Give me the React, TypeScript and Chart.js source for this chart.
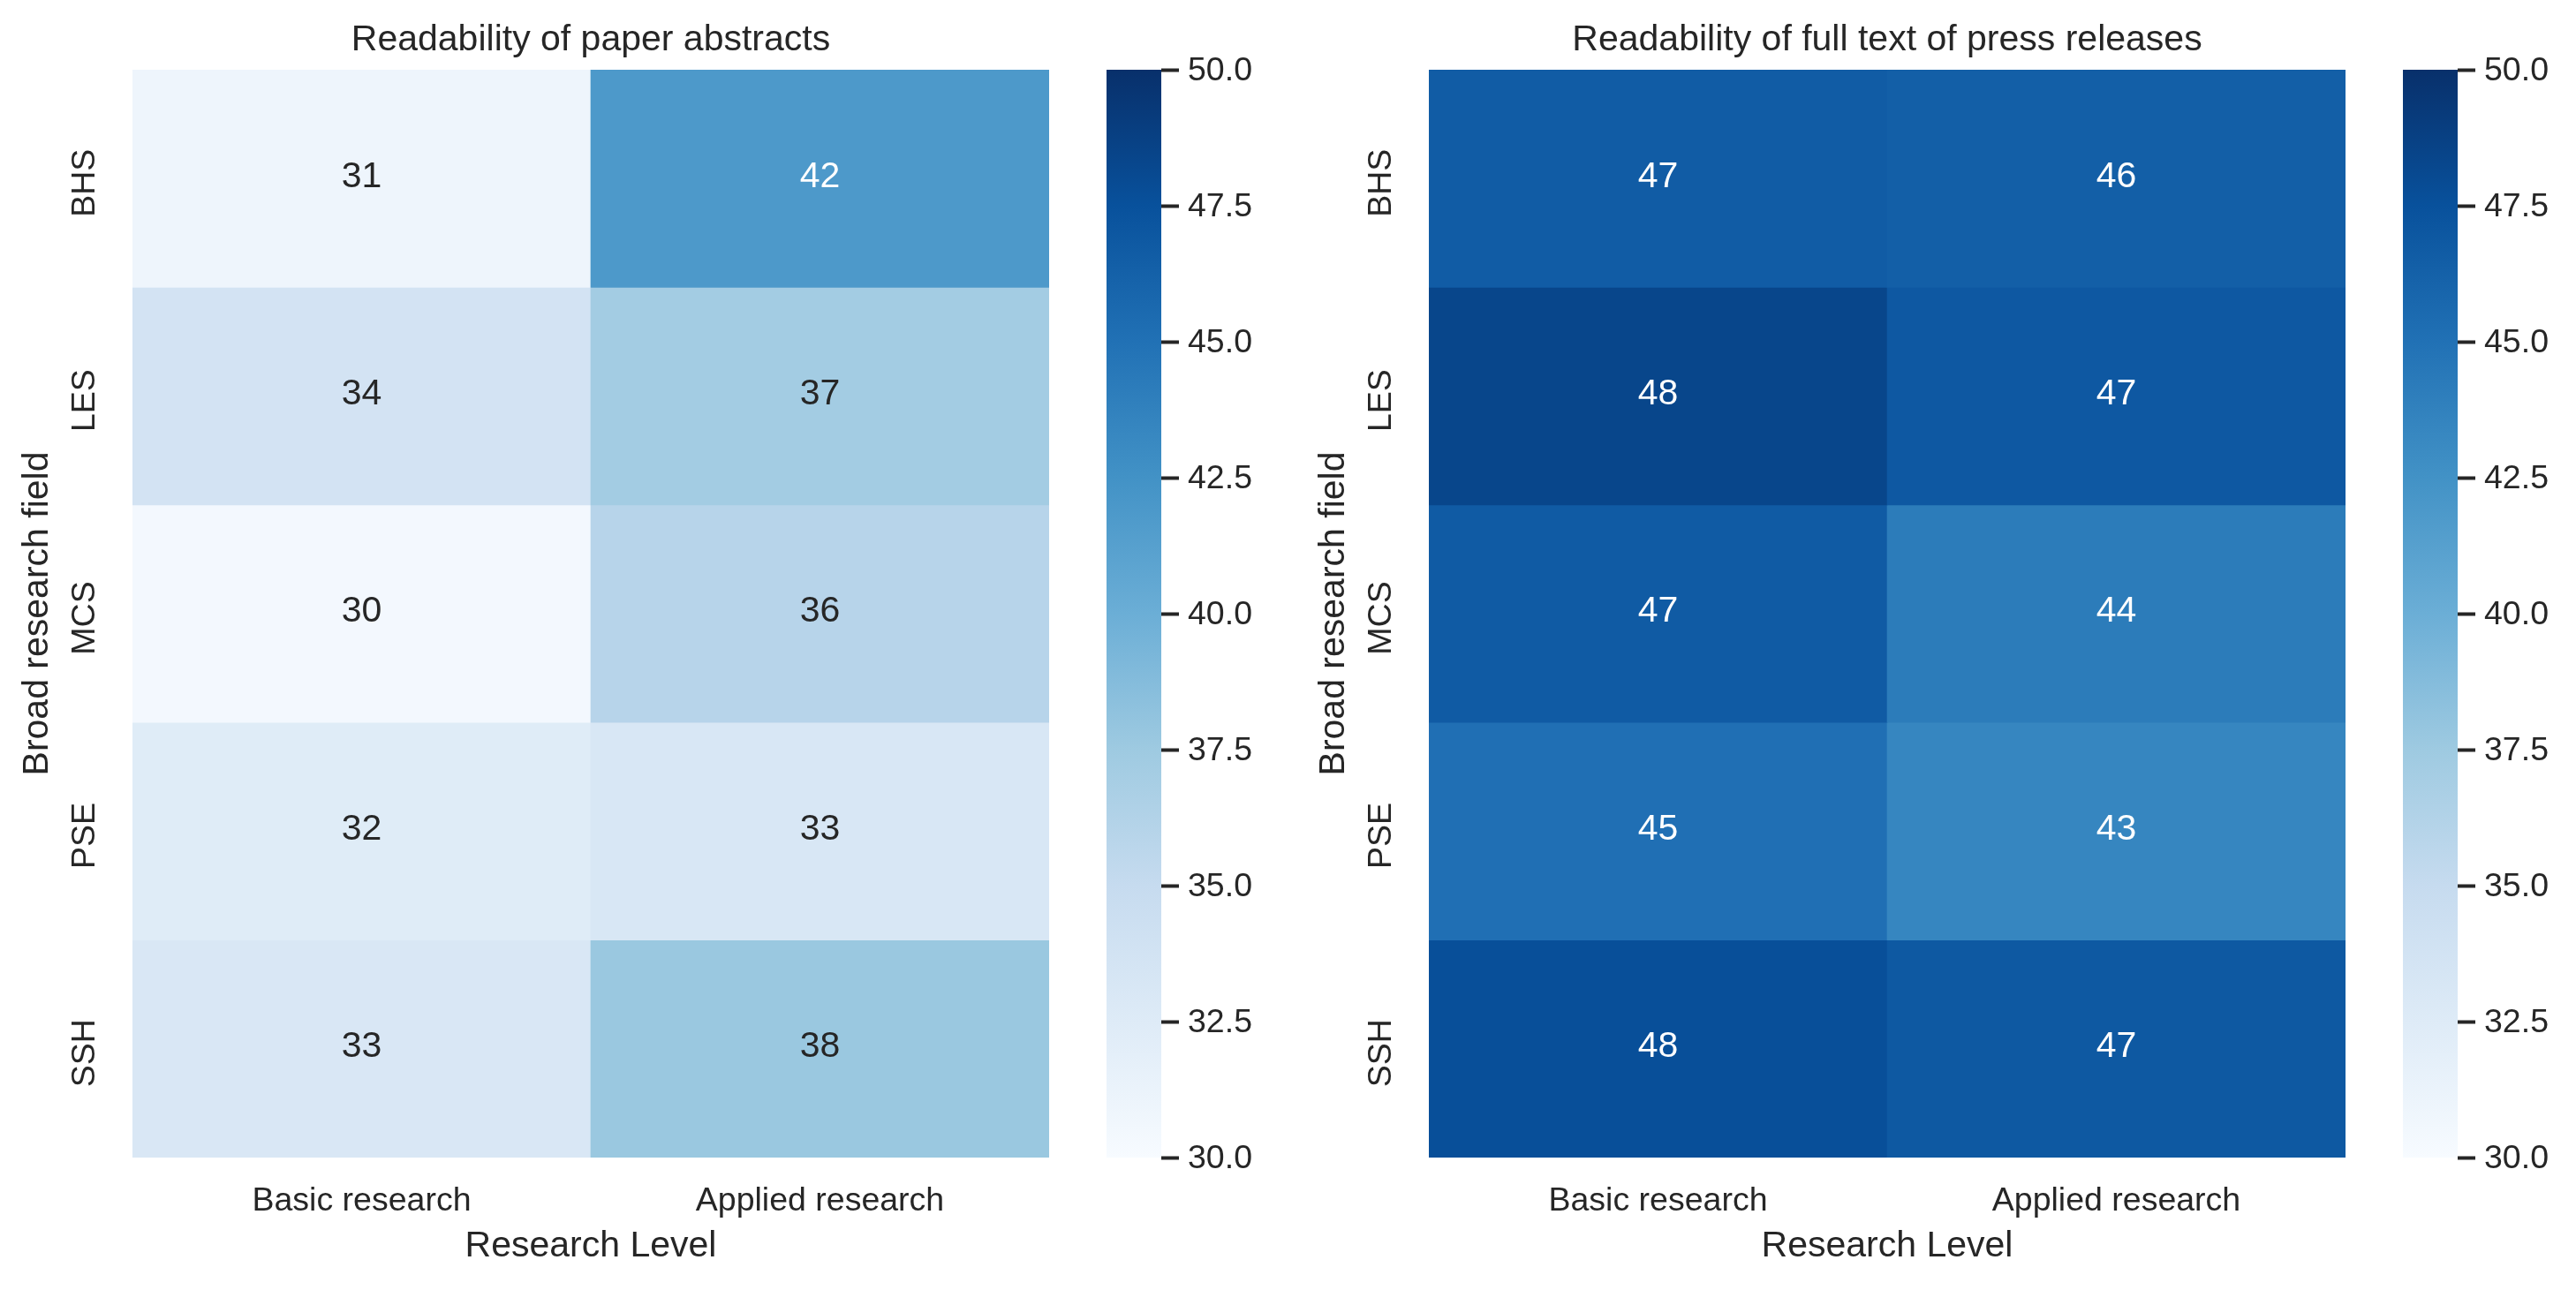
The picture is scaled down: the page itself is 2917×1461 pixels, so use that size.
import React, { useEffect, useRef } from "react";
import { Chart, registerables } from "chart.js";

Chart.register(...registerables);

// ---------- data ----------
const columnLabels = ["Basic research", "Applied research"];
const rowLabels = ["BHS", "LES", "MCS", "PSE", "SSH"];
const abstractsBasic = [31.0, 33.7, 30.4, 32.4, 33.1];
const abstractsApplied = [41.8, 37.2, 36.0, 33.2, 37.7];
const pressBasic = [46.6, 48.3, 46.7, 45.1, 47.6];
const pressApplied = [46.4, 46.9, 44.2, 43.4, 46.8];
const panelTitles = [
  "Readability of paper abstracts",
  "Readability of full text of press releases",
];
const xAxisTitle = "Research Level";
const yAxisTitle = "Broad research field";
const colorMin = 30;
const colorMax = 50;
const colorStep = 2.5;
const bluesStops = [
  "#f7fbff",
  "#deebf7",
  "#c6dbef",
  "#9ecae1",
  "#6baed6",
  "#4292c6",
  "#2171b5",
  "#08519c",
  "#08306b",
];

// ---------- style ----------
const FONT = "'Liberation Sans', Arial, Helvetica, sans-serif";
const TEXT = "#262626";
const PANEL_W = 1240;
const CBAR_W = 200;
const H = 1461;

const hexToRgb = (h: string) => [
  parseInt(h.slice(1, 3), 16),
  parseInt(h.slice(3, 5), 16),
  parseInt(h.slice(5, 7), 16),
];
const bluesRgb = bluesStops.map(hexToRgb);

function cmapRgb(v: number): number[] {
  let t = (v - colorMin) / (colorMax - colorMin);
  t = Math.max(0, Math.min(1, t));
  const idx = Math.min(255, Math.floor(t * 256));
  t = idx / 255;
  const n = bluesRgb.length;
  const pos = t * (n - 1);
  const i = Math.min(n - 2, Math.floor(pos));
  const f = pos - i;
  return [0, 1, 2].map((k) => bluesRgb[i][k] + (bluesRgb[i + 1][k] - bluesRgb[i][k]) * f);
}
const cmap = (v: number) => {
  const [r, g, b] = cmapRgb(v);
  return `rgb(${Math.round(r)},${Math.round(g)},${Math.round(b)})`;
};
function annotColor(v: number) {
  const lin = cmapRgb(v).map((c) => {
    const s = c / 255;
    return s <= 0.03928 ? s / 12.92 : Math.pow((s + 0.055) / 1.055, 2.4);
  });
  const lum = 0.2126 * lin[0] + 0.7152 * lin[1] + 0.0722 * lin[2];
  return lum > 0.408 ? TEXT : "#ffffff";
}

function Heatmap({ title, basic, applied, left }: any) {
  const ref = useRef<HTMLCanvasElement>(null);
  useEffect(() => {
    const values = [basic, applied];
    const annotations = {
      id: "cellAnnotations",
      afterDatasetsDraw(chart: any) {
        const { ctx, scales } = chart;
        ctx.save();
        ctx.font = `normal 41px ${FONT}`;
        ctx.textAlign = "center";
        ctx.textBaseline = "middle";
        rowLabels.forEach((_, r) => {
          columnLabels.forEach((__, c) => {
            const v = values[c][r];
            ctx.fillStyle = annotColor(v);
            ctx.fillText(
              String(Math.round(v)),
              scales.x.getPixelForValue(c),
              scales.y.getPixelForValue(r) - 2
            );
          });
        });
        ctx.restore();
      },
    };
    const chart = new Chart(ref.current as HTMLCanvasElement, {
      type: "bar",
      data: {
        labels: columnLabels,
        datasets: rowLabels.map((name, r) => ({
          label: name,
          data: columnLabels.map(() => [r - 0.5, r + 0.5]),
          backgroundColor: columnLabels.map((_, c) => cmap(values[c][r])),
          borderWidth: 0,
          barPercentage: 1,
          categoryPercentage: 1,
        })),
      } as any,
      options: {
        responsive: false,
        maintainAspectRatio: false,
        animation: false,
        events: [],
        layout: { padding: { left: 0, top: 0, right: PANEL_W - 1188, bottom: 0 } },
        plugins: {
          legend: { display: false },
          tooltip: { enabled: false },
          title: {
            display: true,
            text: title,
            fullSize: false,
            color: TEXT,
            font: { family: FONT, size: 41, weight: "normal" },
            padding: { top: 21.4, bottom: 8.4 },
          },
        },
        scales: {
          x: {
            type: "category",
            stacked: true,
            offset: true,
            grid: { display: false, drawTicks: false },
            border: { display: false },
            ticks: {
              color: TEXT,
              font: { family: FONT, size: 37.5 },
              padding: 27.5,
              minRotation: 0,
              maxRotation: 0,
              autoSkip: false,
            },
            title: {
              display: true,
              text: xAxisTitle,
              color: TEXT,
              font: { family: FONT, size: 41 },
              padding: { top: 0, bottom: 25 },
            },
            afterFit: (s: any) => {
              s.height = 150;
            },
          },
          y: {
            type: "linear",
            min: -0.5,
            max: rowLabels.length - 0.5,
            reverse: true,
            grid: { display: false, drawTicks: false },
            border: { display: false },
            afterBuildTicks: (s: any) => {
              s.ticks = rowLabels.map((_, i) => ({ value: i }));
            },
            ticks: {
              callback: (v: any) => rowLabels[Math.round(Number(v))] ?? "",
              color: TEXT,
              font: { family: FONT, size: 37.5 },
              padding: 12,
              minRotation: 90,
              maxRotation: 90,
              labelOffset: 5,
              crossAlign: "center",
              autoSkip: false,
            },
            title: {
              display: true,
              text: yAxisTitle,
              color: TEXT,
              font: { family: FONT, size: 41 },
              padding: { top: 18, bottom: 0 },
            },
            afterFit: (s: any) => {
              s.width = 150;
            },
          },
        },
      } as any,
      plugins: [annotations],
    });
    return () => chart.destroy();
  }, []);
  return (
    <canvas
      ref={ref}
      width={PANEL_W}
      height={H}
      style={{ position: "absolute", left, top: 0, width: PANEL_W, height: H }}
    />
  );
}

function Colorbar({ left }: any) {
  const ref = useRef<HTMLCanvasElement>(null);
  useEffect(() => {
    const chart = new Chart(ref.current as HTMLCanvasElement, {
      type: "bar",
      data: {
        labels: [""],
        datasets: [
          {
            data: [[colorMin, colorMax]],
            backgroundColor: (c: any) => {
              const ch = c.chart;
              if (!ch.chartArea) return bluesStops[0];
              const y = ch.scales.y;
              const g = ch.ctx.createLinearGradient(
                0,
                y.getPixelForValue(colorMin),
                0,
                y.getPixelForValue(colorMax)
              );
              bluesStops.forEach((col, i) => g.addColorStop(i / (bluesStops.length - 1), col));
              return g;
            },
            borderWidth: 0,
            barPercentage: 1,
            categoryPercentage: 1,
            inflateAmount: 0,
          },
        ],
      } as any,
      options: {
        responsive: false,
        maintainAspectRatio: false,
        animation: false,
        events: [],
        layout: { padding: { left: 13, top: 79, bottom: 150, right: 0 } },
        plugins: { legend: { display: false }, tooltip: { enabled: false } },
        scales: {
          x: { display: false, offset: true },
          y: {
            position: "right",
            min: colorMin,
            max: colorMax,
            grid: {
              display: true,
              drawOnChartArea: false,
              drawTicks: true,
              tickLength: 20,
              tickWidth: 4,
              tickColor: TEXT,
            },
            border: { display: false },
            ticks: {
              stepSize: colorStep,
              callback: (v: any) => Number(v).toFixed(1),
              color: TEXT,
              font: { family: FONT, size: 37.5 },
              padding: 10,
              labelOffset: 2,
              autoSkip: false,
            },
            afterFit: (s: any) => {
              s.width = CBAR_W - 13 - 62;
            },
          },
        },
      } as any,
    });
    return () => chart.destroy();
  }, []);
  return (
    <canvas
      ref={ref}
      width={CBAR_W}
      height={H}
      style={{ position: "absolute", left, top: 0, width: CBAR_W, height: H }}
    />
  );
}

export default function App() {
  return (
    <div
      style={{
        position: "absolute",
        left: 0,
        top: 0,
        width: 2917,
        height: H,
        background: "#ffffff",
        overflow: "hidden",
      }}
    >
      <Heatmap title={panelTitles[0]} basic={abstractsBasic} applied={abstractsApplied} left={0} />
      <Colorbar left={PANEL_W} />
      <Heatmap title={panelTitles[1]} basic={pressBasic} applied={pressApplied} left={1468} />
      <Colorbar left={1468 + PANEL_W} />
    </div>
  );
}
